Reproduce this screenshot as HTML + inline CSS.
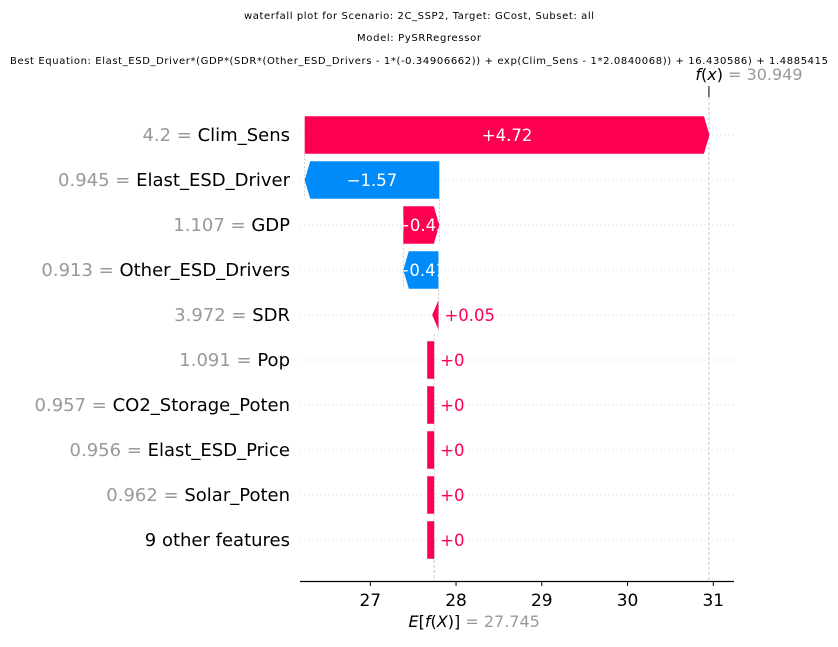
<!DOCTYPE html>
<html><head><meta charset="utf-8"><style>
body{margin:0;background:#fff;width:838px;height:642px;overflow:hidden}
svg{font-family:"DejaVu Sans","Liberation Sans",sans-serif}
</style></head><body>
<svg id="chart" width="838" height="642">
<text x="419" y="19" font-size="10" text-anchor="middle" textLength="350">waterfall plot for Scenario: 2C_SSP2, Target: GCost, Subset: all</text>
<text x="419" y="41" font-size="10" text-anchor="middle" textLength="124">Model: PySRRegressor</text>
<text x="419" y="64" font-size="10" text-anchor="middle" textLength="818">Best Equation: Elast_ESD_Driver*(GDP*(SDR*(Other_ESD_Drivers - 1*(-0.34906662)) + exp(Clim_Sens - 1*2.0840068)) + 16.430586) + 1.4885415</text>
<g id="plot"></g>
</svg>
<script>
const featureNames=["Clim_Sens","Elast_ESD_Driver","GDP","Other_ESD_Drivers","SDR","Pop","CO2_Storage_Poten","Elast_ESD_Price","Solar_Poten","9 other features"];
const featureValues=["4.2","0.945","1.107","0.913","3.972","1.091","0.957","0.956","0.962",""];
const shapValues=[4.72,-1.57,0.42,-0.41,0.05,0,0,0,0,0];
const shapLabels=["+4.72","\u22121.57","+0.42","\u22120.41","+0.05","+0","+0","+0","+0","+0"];
const baseValue=27.745;
const fxValue=30.949;
const xTicks=[27,28,29,30,31];

const NS="http://www.w3.org/2000/svg";
const g=document.getElementById('plot');
const X=v=>370.3+(v-27)*85.75;
const Y=i=>135+i*45;
const RED="#ff0051",BLUE="#008bfb";
function el(t,a,p){const e=document.createElementNS(NS,t);for(const k in a)e.setAttribute(k,a[k]);(p||g).appendChild(e);return e;}

let ax=el('line',{x1:300,x2:734,y1:581.5,y2:581.5,stroke:'#000','stroke-width':1.2});


xTicks.forEach(t=>{
  el('line',{x1:X(t),x2:X(t),y1:581.5,y2:586,stroke:'#000'});
  const tx=el('text',{x:X(t),y:606,'font-size':17,'text-anchor':'middle'});tx.textContent=t;
  
  
});
el('line',{x1:X(fxValue),x2:X(fxValue),y1:92,y2:581,stroke:'#bbb','stroke-width':0.8,'stroke-dasharray':'3,2'});
el('line',{x1:X(fxValue),x2:X(fxValue),y1:86,y2:97,stroke:'#000','stroke-width':1});
el('line',{x1:X(baseValue),x2:X(baseValue),y1:Y(9),y2:581,stroke:'#bbb','stroke-width':0.8,'stroke-dasharray':'3,2'});
let fl=el('text',{x:X(fxValue)+40,y:80,'font-size':16,'text-anchor':'middle'});
fl.innerHTML='<tspan font-style="italic">f</tspan>(<tspan font-style="italic">x</tspan>)<tspan fill="#999"> = '+fxValue.toFixed(3)+'</tspan>';


let el2=el('text',{x:X(baseValue)+40,y:627,'font-size':16,'text-anchor':'middle'});
el2.innerHTML='<tspan font-style="italic">E</tspan>[<tspan font-style="italic">f</tspan>(<tspan font-style="italic">X</tspan>)]<tspan fill="#999"> = '+baseValue.toFixed(3)+'</tspan>';



let cum=baseValue;const starts=[];
for(let i=featureNames.length-1;i>=0;i--){starts[i]=cum;cum+=shapValues[i];}
const H=37.6,head=5.5;
for(let i=0;i<featureNames.length;i++){
  const y=Y(i);
  el('line',{x1:300,x2:734,y1:y,y2:y,stroke:'#ccc','stroke-width':0.8,'stroke-dasharray':'1,3'});
  if(i>0){const px=X(starts[i-1]);el('line',{x1:px,x2:px,y1:y-H/2-7,y2:y+H/2,stroke:'#bbb','stroke-width':0.8,'stroke-dasharray':'2,2'});}
  const v=shapValues[i];
  let a=X(starts[i]),b=X(starts[i]+v);
  const pos=v>=0;
  let w=Math.abs(b-a);
  let pts;
  if(w<7.5){
    if(v===0){pts=[[a-7,y-H/2],[a,y-H/2],[a,y+H/2],[a-7,y+H/2]];b=a;}
    else {const l=Math.min(a,b),r=Math.max(a,b);pts=[[r,y-H/2+4],[r,y+H/2-4],[l-2,y]];}
  } else if(pos){pts=[[a,y-H/2],[b-head,y-H/2],[b,y],[b-head,y+H/2],[a,y+H/2]];}
  else {pts=[[a,y-H/2],[b+head,y-H/2],[b,y],[b+head,y+H/2],[a,y+H/2]];}
  const bar=el('polygon',{points:pts.map(p=>p.join(',')).join(' '),fill:pos?RED:BLUE});
  
  
  if(w>30){
    const cid='c'+i;const cp=el('clipPath',{id:cid});el('polygon',{points:bar.getAttribute('points')},cp);
    const t=el('text',{x:(a+b)/2,y:y+6,'font-size':16.5,fill:'#fff','text-anchor':'middle','clip-path':'url(#'+cid+')'});t.textContent=shapLabels[i];
    
    
  } else {
    const t=el('text',{x:Math.max(a,b)+6,y:y+6,'font-size':16.5,fill:pos?RED:BLUE});t.textContent=shapLabels[i];
    
    
  }
  const lab=el('text',{x:290,y:y+6,'font-size':18,'text-anchor':'end'});
  lab.innerHTML=(featureValues[i]?'<tspan fill="#999">'+featureValues[i]+' = </tspan>':'')+featureNames[i];
  
  
}
</script>
</body></html>
